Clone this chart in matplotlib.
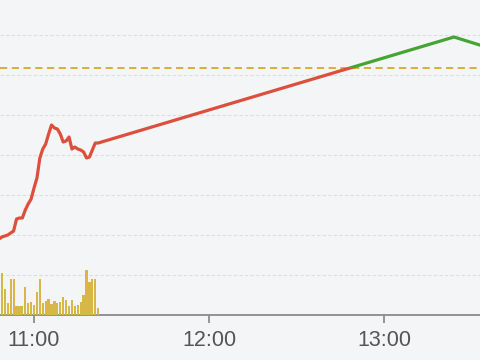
import matplotlib
matplotlib.use("Agg")
import matplotlib.pyplot as plt
import matplotlib.dates as mdates
from matplotlib.patches import Rectangle
import pandas as pd

# ---- data ----
times = ["10:48", "10:49", "10:50", "10:51", "10:52", "10:53", "10:54", "10:55",
         "10:56", "10:57", "10:58", "10:59", "11:00", "11:01", "11:02", "11:03",
         "11:04", "11:05", "11:06", "11:07", "11:08", "11:09", "11:10", "11:11",
         "11:12", "11:13", "11:14", "11:15", "11:16", "11:17", "11:18", "11:19",
         "11:20", "11:21", "11:22", "13:24", "13:35"]
prices = [9.490, 9.495, 9.4975, 9.500, 9.505, 9.510, 9.540, 9.5425,
          9.5425, 9.5625, 9.5775, 9.590, 9.6175, 9.6425, 9.6925, 9.715,
          9.7275, 9.7525, 9.775, 9.7675, 9.765, 9.7525, 9.7325, 9.735,
          9.745, 9.715, 9.720, 9.715, 9.7125, 9.7075, 9.6925, 9.695,
          9.7125, 9.730, 9.730, 9.995, 9.970]
prev_close = 9.9175

vol_times = ["10:48", "10:49", "10:50", "10:51", "10:52", "10:53", "10:54", "10:55",
             "10:56", "10:57", "10:58", "10:59", "11:00", "11:01", "11:02", "11:03",
             "11:04", "11:05", "11:06", "11:07", "11:08", "11:09", "11:10", "11:11",
             "11:12", "11:13", "11:14", "11:15", "11:16", "11:17", "11:18", "11:19",
             "11:20", "11:21", "11:22"]
volumes = [600, 840, 520, 240, 720, 720, 180, 180, 180, 560, 240, 260,
           200, 460, 720, 240, 280, 320, 220, 280, 240, 260, 360, 300,
           180, 300, 180, 200, 260, 400, 900, 660, 720, 720, 140]

grid_levels = [9.40, 9.50, 9.60, 9.70, 9.80, 9.90, 10.00]
tick_labels = ["11:00", "12:00", "13:00"]

day = "2024-01-02 "
tx = mdates.date2num(pd.to_datetime([day + t for t in times]))
vx = mdates.date2num(pd.to_datetime([day + t for t in vol_times]))
tick_x = mdates.date2num(pd.to_datetime([day + t for t in tick_labels]))
x_lo = mdates.date2num(pd.Timestamp(day + "10:48:20"))
x_hi = mdates.date2num(pd.Timestamp(day + "13:32:55"))

# ---- style ----
bg = "#f4f5f7"
red = "#dc4f3c"
green = "#45a532"
gold = "#d7a82a"
bar_col = "#d6b747"

fig = plt.figure(figsize=(4.8, 3.6), dpi=100, facecolor=bg)
ax = fig.add_axes([0, 0.125, 1, 0.875])
ax.set_facecolor(bg)
ax.set_xlim(x_lo, x_hi)
ax.set_ylim(9.30, 10.0875)

for s in ["left", "right", "top"]:
    ax.spines[s].set_visible(False)
ax.spines["bottom"].set_color("#8a8a8a")
ax.spines["bottom"].set_linewidth(1.3)

ax.set_yticks(grid_levels)
ax.tick_params(axis="y", left=False, labelleft=False, length=0)
ax.yaxis.grid(True, color="#dcdde0", linestyle=(0, (3, 2)), linewidth=0.8)
ax.set_axisbelow(True)

ax.set_xticks(tick_x)
ax.set_xticklabels(tick_labels, fontfamily="Liberation Sans", fontsize=15.5, color="#555555")
ax.tick_params(axis="x", length=6, width=1.1, color="#7a7a7a", pad=5)

# volume bars on twin axis
ax2 = ax.twinx()
ax2.set_ylim(0, 6300)
ax2.set_xlim(x_lo, x_hi)
ax2.axis("off")
ax2.bar(vx, volumes, width=0.76 / 1440, color=bar_col, edgecolor="none")

# reference (previous close)
ax.axhline(prev_close, color=gold, linestyle=(0, (4, 2.5)), linewidth=1.3, zorder=2)

# price line, red below previous close, green above
lr, = ax.plot(tx, prices, color=red, linewidth=2.3, solid_joinstyle="round", zorder=3)
lg, = ax.plot(tx, prices, color=green, linewidth=2.3, solid_joinstyle="round", zorder=3)
below = Rectangle((x_lo, 9.0), x_hi - x_lo, prev_close - 9.0, transform=ax.transData)
above = Rectangle((x_lo, prev_close), x_hi - x_lo, 2.0, transform=ax.transData)
lr.set_clip_path(below)
lg.set_clip_path(above)

fig.savefig("out.png", dpi=100, facecolor=bg)
